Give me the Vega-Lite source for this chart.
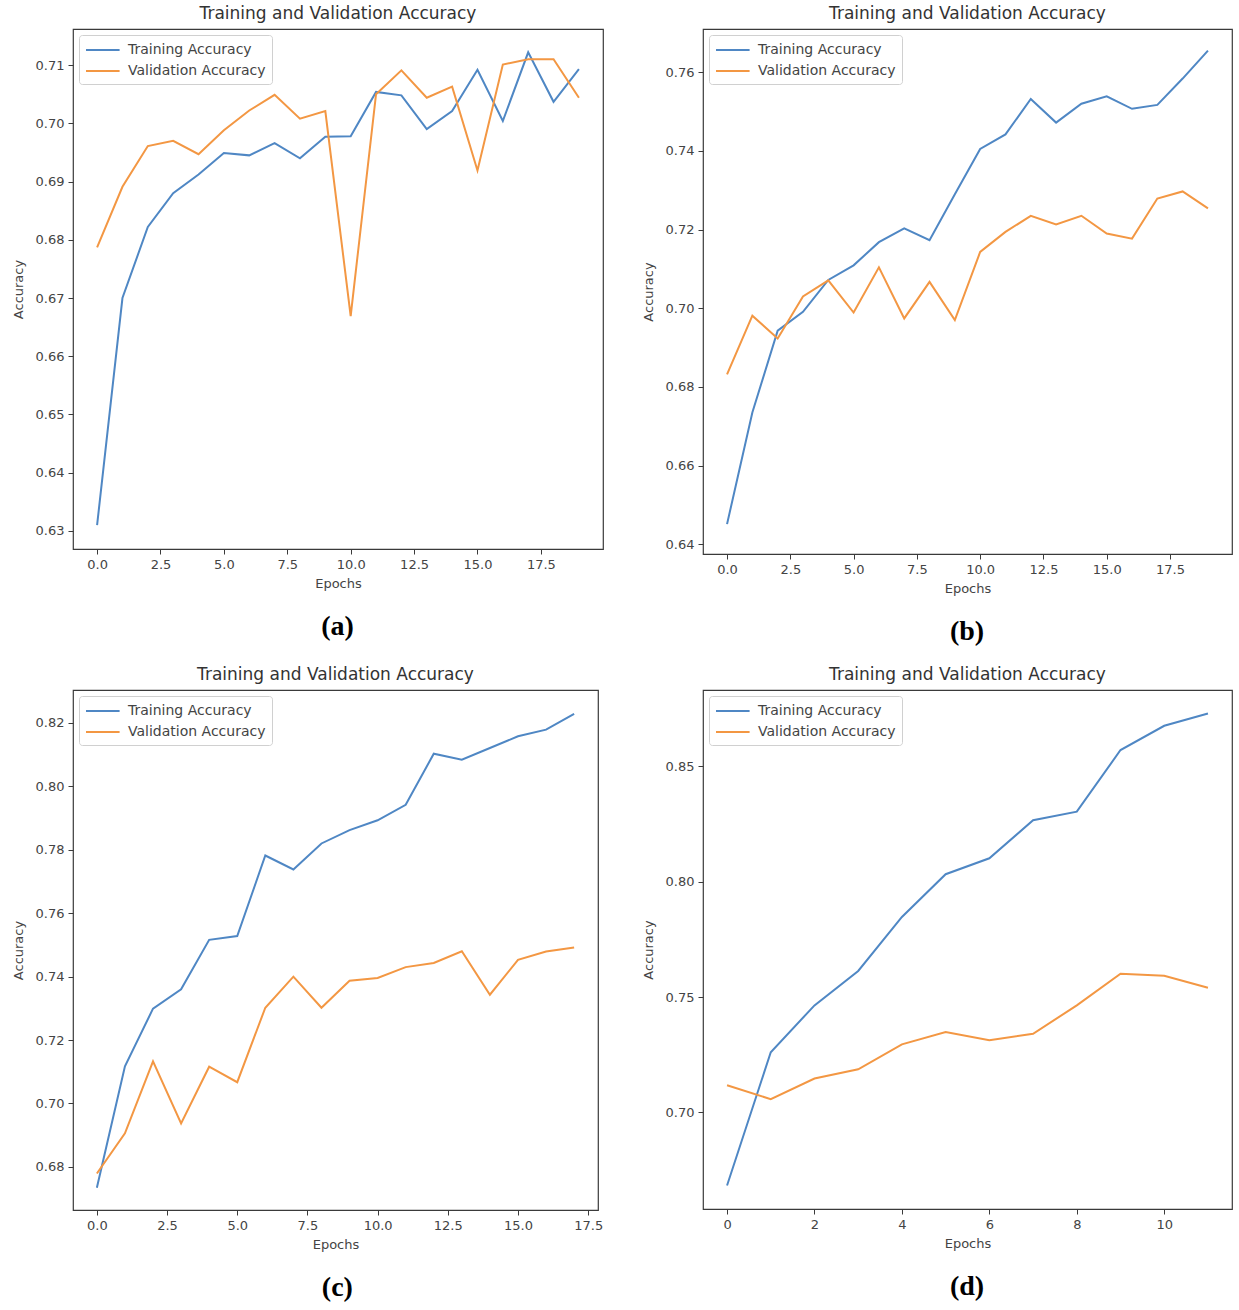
{
  "$schema": "https://vega.github.io/schema/vega-lite/v6.json",
  "background": "white",
  "padding": {"left": 11, "top": 4, "right": 5, "bottom": 5},
  "datasets": {
    "a": [
      {"epoch":0,"series":"Training Accuracy","acc":0.631},{"epoch":1,"series":"Training Accuracy","acc":0.670},{"epoch":2,"series":"Training Accuracy","acc":0.6822},{"epoch":3,"series":"Training Accuracy","acc":0.688},{"epoch":4,"series":"Training Accuracy","acc":0.6912},{"epoch":5,"series":"Training Accuracy","acc":0.6949},{"epoch":6,"series":"Training Accuracy","acc":0.6945},{"epoch":7,"series":"Training Accuracy","acc":0.6966},{"epoch":8,"series":"Training Accuracy","acc":0.694},{"epoch":9,"series":"Training Accuracy","acc":0.6977},{"epoch":10,"series":"Training Accuracy","acc":0.6978},{"epoch":11,"series":"Training Accuracy","acc":0.7054},{"epoch":12,"series":"Training Accuracy","acc":0.7048},{"epoch":13,"series":"Training Accuracy","acc":0.699},{"epoch":14,"series":"Training Accuracy","acc":0.7021},{"epoch":15,"series":"Training Accuracy","acc":0.7092},{"epoch":16,"series":"Training Accuracy","acc":0.7004},{"epoch":17,"series":"Training Accuracy","acc":0.7122},{"epoch":18,"series":"Training Accuracy","acc":0.7037},{"epoch":19,"series":"Training Accuracy","acc":0.7093},
      {"epoch":0,"series":"Validation Accuracy","acc":0.6787},{"epoch":1,"series":"Validation Accuracy","acc":0.6891},{"epoch":2,"series":"Validation Accuracy","acc":0.6961},{"epoch":3,"series":"Validation Accuracy","acc":0.697},{"epoch":4,"series":"Validation Accuracy","acc":0.6947},{"epoch":5,"series":"Validation Accuracy","acc":0.6988},{"epoch":6,"series":"Validation Accuracy","acc":0.7022},{"epoch":7,"series":"Validation Accuracy","acc":0.7049},{"epoch":8,"series":"Validation Accuracy","acc":0.7008},{"epoch":9,"series":"Validation Accuracy","acc":0.7021},{"epoch":10,"series":"Validation Accuracy","acc":0.6669},{"epoch":11,"series":"Validation Accuracy","acc":0.705},{"epoch":12,"series":"Validation Accuracy","acc":0.7091},{"epoch":13,"series":"Validation Accuracy","acc":0.7044},{"epoch":14,"series":"Validation Accuracy","acc":0.7063},{"epoch":15,"series":"Validation Accuracy","acc":0.6919},{"epoch":16,"series":"Validation Accuracy","acc":0.7101},{"epoch":17,"series":"Validation Accuracy","acc":0.711},{"epoch":18,"series":"Validation Accuracy","acc":0.711},{"epoch":19,"series":"Validation Accuracy","acc":0.7044}
    ],
    "b": [
      {"epoch":0,"series":"Training Accuracy","acc":0.6451},{"epoch":1,"series":"Training Accuracy","acc":0.6735},{"epoch":2,"series":"Training Accuracy","acc":0.6943},{"epoch":3,"series":"Training Accuracy","acc":0.6991},{"epoch":4,"series":"Training Accuracy","acc":0.7072},{"epoch":5,"series":"Training Accuracy","acc":0.7109},{"epoch":6,"series":"Training Accuracy","acc":0.7168},{"epoch":7,"series":"Training Accuracy","acc":0.7203},{"epoch":8,"series":"Training Accuracy","acc":0.7173},{"epoch":9,"series":"Training Accuracy","acc":0.729},{"epoch":10,"series":"Training Accuracy","acc":0.7405},{"epoch":11,"series":"Training Accuracy","acc":0.7442},{"epoch":12,"series":"Training Accuracy","acc":0.7532},{"epoch":13,"series":"Training Accuracy","acc":0.7472},{"epoch":14,"series":"Training Accuracy","acc":0.752},{"epoch":15,"series":"Training Accuracy","acc":0.7539},{"epoch":16,"series":"Training Accuracy","acc":0.7507},{"epoch":17,"series":"Training Accuracy","acc":0.7517},{"epoch":18,"series":"Training Accuracy","acc":0.7584},{"epoch":19,"series":"Training Accuracy","acc":0.7655},
      {"epoch":0,"series":"Validation Accuracy","acc":0.6832},{"epoch":1,"series":"Validation Accuracy","acc":0.6981},{"epoch":2,"series":"Validation Accuracy","acc":0.6923},{"epoch":3,"series":"Validation Accuracy","acc":0.703},{"epoch":4,"series":"Validation Accuracy","acc":0.7071},{"epoch":5,"series":"Validation Accuracy","acc":0.6989},{"epoch":6,"series":"Validation Accuracy","acc":0.7104},{"epoch":7,"series":"Validation Accuracy","acc":0.6974},{"epoch":8,"series":"Validation Accuracy","acc":0.7067},{"epoch":9,"series":"Validation Accuracy","acc":0.697},{"epoch":10,"series":"Validation Accuracy","acc":0.7143},{"epoch":11,"series":"Validation Accuracy","acc":0.7194},{"epoch":12,"series":"Validation Accuracy","acc":0.7235},{"epoch":13,"series":"Validation Accuracy","acc":0.7213},{"epoch":14,"series":"Validation Accuracy","acc":0.7235},{"epoch":15,"series":"Validation Accuracy","acc":0.719},{"epoch":16,"series":"Validation Accuracy","acc":0.7177},{"epoch":17,"series":"Validation Accuracy","acc":0.7279},{"epoch":18,"series":"Validation Accuracy","acc":0.7297},{"epoch":19,"series":"Validation Accuracy","acc":0.7254}
    ],
    "c": [
      {"epoch":0,"series":"Training Accuracy","acc":0.6734},{"epoch":1,"series":"Training Accuracy","acc":0.7117},{"epoch":2,"series":"Training Accuracy","acc":0.7299},{"epoch":3,"series":"Training Accuracy","acc":0.736},{"epoch":4,"series":"Training Accuracy","acc":0.7516},{"epoch":5,"series":"Training Accuracy","acc":0.7528},{"epoch":6,"series":"Training Accuracy","acc":0.7782},{"epoch":7,"series":"Training Accuracy","acc":0.7738},{"epoch":8,"series":"Training Accuracy","acc":0.782},{"epoch":9,"series":"Training Accuracy","acc":0.7862},{"epoch":10,"series":"Training Accuracy","acc":0.7893},{"epoch":11,"series":"Training Accuracy","acc":0.7942},{"epoch":12,"series":"Training Accuracy","acc":0.8103},{"epoch":13,"series":"Training Accuracy","acc":0.8084},{"epoch":14,"series":"Training Accuracy","acc":0.8121},{"epoch":15,"series":"Training Accuracy","acc":0.8158},{"epoch":16,"series":"Training Accuracy","acc":0.8179},{"epoch":17,"series":"Training Accuracy","acc":0.8229},
      {"epoch":0,"series":"Validation Accuracy","acc":0.6779},{"epoch":1,"series":"Validation Accuracy","acc":0.6906},{"epoch":2,"series":"Validation Accuracy","acc":0.7133},{"epoch":3,"series":"Validation Accuracy","acc":0.6937},{"epoch":4,"series":"Validation Accuracy","acc":0.7116},{"epoch":5,"series":"Validation Accuracy","acc":0.7067},{"epoch":6,"series":"Validation Accuracy","acc":0.7302},{"epoch":7,"series":"Validation Accuracy","acc":0.74},{"epoch":8,"series":"Validation Accuracy","acc":0.7302},{"epoch":9,"series":"Validation Accuracy","acc":0.7387},{"epoch":10,"series":"Validation Accuracy","acc":0.7396},{"epoch":11,"series":"Validation Accuracy","acc":0.743},{"epoch":12,"series":"Validation Accuracy","acc":0.7443},{"epoch":13,"series":"Validation Accuracy","acc":0.748},{"epoch":14,"series":"Validation Accuracy","acc":0.7343},{"epoch":15,"series":"Validation Accuracy","acc":0.7453},{"epoch":16,"series":"Validation Accuracy","acc":0.7479},{"epoch":17,"series":"Validation Accuracy","acc":0.7492}
    ],
    "d": [
      {"epoch":0,"series":"Training Accuracy","acc":0.6684},{"epoch":1,"series":"Training Accuracy","acc":0.7261},{"epoch":2,"series":"Training Accuracy","acc":0.7464},{"epoch":3,"series":"Training Accuracy","acc":0.7613},{"epoch":4,"series":"Training Accuracy","acc":0.7847},{"epoch":5,"series":"Training Accuracy","acc":0.8032},{"epoch":6,"series":"Training Accuracy","acc":0.8101},{"epoch":7,"series":"Training Accuracy","acc":0.8266},{"epoch":8,"series":"Training Accuracy","acc":0.8303},{"epoch":9,"series":"Training Accuracy","acc":0.857},{"epoch":10,"series":"Training Accuracy","acc":0.8675},{"epoch":11,"series":"Training Accuracy","acc":0.8728},
      {"epoch":0,"series":"Validation Accuracy","acc":0.7118},{"epoch":1,"series":"Validation Accuracy","acc":0.7058},{"epoch":2,"series":"Validation Accuracy","acc":0.7147},{"epoch":3,"series":"Validation Accuracy","acc":0.7187},{"epoch":4,"series":"Validation Accuracy","acc":0.7295},{"epoch":5,"series":"Validation Accuracy","acc":0.7349},{"epoch":6,"series":"Validation Accuracy","acc":0.7313},{"epoch":7,"series":"Validation Accuracy","acc":0.7341},{"epoch":8,"series":"Validation Accuracy","acc":0.7464},{"epoch":9,"series":"Validation Accuracy","acc":0.7601},{"epoch":10,"series":"Validation Accuracy","acc":0.7592},{"epoch":11,"series":"Validation Accuracy","acc":0.754}
    ]
  },
  "columns": 2,
  "spacing": {"row": 19, "column": 37},
  "resolve": {"scale": {"color": "independent"}, "legend": {"color": "independent"}},
  "concat": [
    {
      "title": {"text": "(a)", "orient": "bottom", "anchor": "middle", "dx": 30, "font": "Liberation Serif, Times New Roman, serif", "fontSize": 28, "fontWeight": "bold", "color": "#000", "offset": 22},
      "resolve": {"scale": {"color": "independent"}, "legend": {"color": "independent"}},
      "vconcat": [{
        "data": {"name": "a"},
        "title": {"text": "Training and Validation Accuracy", "frame": "group"},
        "width": 530, "height": 520,
        "mark": {"type": "line", "strokeWidth": 2},
        "encoding": {
          "x": {"field": "epoch", "type": "quantitative", "scale": {"domain": [-0.95, 19.95], "nice": false, "zero": false}, "axis": {"values": [0, 2.5, 5, 7.5, 10, 12.5, 15, 17.5], "format": ".1f", "title": "Epochs"}},
          "y": {"field": "acc", "type": "quantitative", "scale": {"domain": [0.6269, 0.7162], "nice": false, "zero": false}, "axis": {"values": [0.63, 0.64, 0.65, 0.66, 0.67, 0.68, 0.69, 0.70, 0.71], "format": ".2f", "title": "Accuracy", "titlePadding": 10}},
          "color": {"field": "series", "type": "nominal", "scale": {"domain": ["Training Accuracy", "Validation Accuracy"], "range": ["#4f87c4", "#f39743"]}, "legend": {"title": null}}
        }
      }]
    },
    {
      "title": {"text": "(b)", "orient": "bottom", "anchor": "middle", "dx": 30, "font": "Liberation Serif, Times New Roman, serif", "fontSize": 28, "fontWeight": "bold", "color": "#000", "offset": 22},
      "resolve": {"scale": {"color": "independent"}, "legend": {"color": "independent"}},
      "vconcat": [{
        "data": {"name": "b"},
        "title": {"text": "Training and Validation Accuracy", "frame": "group"},
        "width": 529, "height": 525,
        "mark": {"type": "line", "strokeWidth": 2},
        "encoding": {
          "x": {"field": "epoch", "type": "quantitative", "scale": {"domain": [-0.95, 19.95], "nice": false, "zero": false}, "axis": {"values": [0, 2.5, 5, 7.5, 10, 12.5, 15, 17.5], "format": ".1f", "title": "Epochs"}},
          "y": {"field": "acc", "type": "quantitative", "scale": {"domain": [0.6375, 0.771], "nice": false, "zero": false}, "axis": {"values": [0.64, 0.66, 0.68, 0.70, 0.72, 0.74, 0.76], "format": ".2f", "title": "Accuracy", "titlePadding": 10}},
          "color": {"field": "series", "type": "nominal", "scale": {"domain": ["Training Accuracy", "Validation Accuracy"], "range": ["#4f87c4", "#f39743"]}, "legend": {"title": null}}
        }
      }]
    },
    {
      "title": {"text": "(c)", "orient": "bottom", "anchor": "middle", "dx": 30, "font": "Liberation Serif, Times New Roman, serif", "fontSize": 28, "fontWeight": "bold", "color": "#000", "offset": 22},
      "resolve": {"scale": {"color": "independent"}, "legend": {"color": "independent"}},
      "vconcat": [{
        "data": {"name": "c"},
        "title": {"text": "Training and Validation Accuracy", "frame": "group"},
        "width": 525, "height": 520,
        "mark": {"type": "line", "strokeWidth": 2},
        "encoding": {
          "x": {"field": "epoch", "type": "quantitative", "scale": {"domain": [-0.85, 17.85], "nice": false, "zero": false}, "axis": {"values": [0, 2.5, 5, 7.5, 10, 12.5, 15, 17.5], "format": ".1f", "title": "Epochs"}},
          "y": {"field": "acc", "type": "quantitative", "scale": {"domain": [0.6664, 0.8304], "nice": false, "zero": false}, "axis": {"values": [0.68, 0.70, 0.72, 0.74, 0.76, 0.78, 0.80, 0.82], "format": ".2f", "title": "Accuracy", "titlePadding": 10}},
          "color": {"field": "series", "type": "nominal", "scale": {"domain": ["Training Accuracy", "Validation Accuracy"], "range": ["#4f87c4", "#f39743"]}, "legend": {"title": null}}
        }
      }]
    },
    {
      "title": {"text": "(d)", "orient": "bottom", "anchor": "middle", "dx": 30, "font": "Liberation Serif, Times New Roman, serif", "fontSize": 28, "fontWeight": "bold", "color": "#000", "offset": 22},
      "resolve": {"scale": {"color": "independent"}, "legend": {"color": "independent"}},
      "vconcat": [{
        "data": {"name": "d"},
        "title": {"text": "Training and Validation Accuracy", "frame": "group"},
        "width": 529, "height": 519,
        "mark": {"type": "line", "strokeWidth": 2},
        "encoding": {
          "x": {"field": "epoch", "type": "quantitative", "scale": {"domain": [-0.55, 11.55], "nice": false, "zero": false}, "axis": {"values": [0, 2, 4, 6, 8, 10], "format": "d", "title": "Epochs"}},
          "y": {"field": "acc", "type": "quantitative", "scale": {"domain": [0.6582, 0.883], "nice": false, "zero": false}, "axis": {"values": [0.70, 0.75, 0.80, 0.85], "format": ".2f", "title": "Accuracy", "titlePadding": 10}},
          "color": {"field": "series", "type": "nominal", "scale": {"domain": ["Training Accuracy", "Validation Accuracy"], "range": ["#4f87c4", "#f39743"]}, "legend": {"title": null}}
        }
      }]
    }
  ],
  "config": {
    "font": "DejaVu Sans",
    "view": {"stroke": "#3a3a3a", "strokeWidth": 1.2},
    "axis": {"domain": false, "grid": false, "ticks": true, "tickColor": "#3a3a3a", "tickSize": 5, "tickWidth": 1, "labelColor": "#444", "labelFontSize": 13, "labelPadding": 4, "titleFontSize": 13, "titleFontWeight": "normal", "titleColor": "#444", "titlePadding": 6},
    "title": {"fontSize": 17, "fontWeight": "normal", "color": "#333", "offset": 6},
    "legend": {"orient": "top-left", "offset": 6, "strokeColor": "#d0d0d0", "cornerRadius": 3, "padding": 6, "fillColor": "white", "symbolType": "M-1,0H3.2", "symbolSize": 256, "symbolStrokeWidth": 2, "labelFontSize": 14, "labelColor": "#444", "rowPadding": 5, "labelOffset": 25}
  }
}
